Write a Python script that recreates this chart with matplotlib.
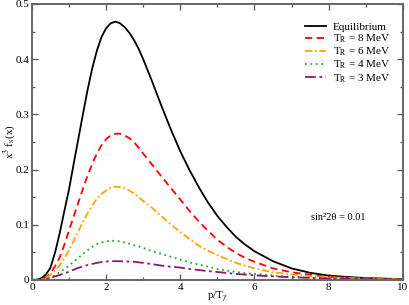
import numpy as np
import matplotlib
matplotlib.use('Agg')
import matplotlib.pyplot as plt
from matplotlib.ticker import MultipleLocator

plt.rcParams['font.family'] = ['Liberation Serif', 'DejaVu Serif']
plt.rcParams['mathtext.fontset'] = 'stix'

# values
x = [0, 0.125, 0.25, 0.375, 0.5, 0.625, 0.75, 0.875, 1.0, 1.125, 1.25, 1.375, 1.5, 1.625,
     1.75, 1.875, 2.0, 2.125, 2.25, 2.375, 2.5, 2.625, 2.75, 2.875, 3.0, 3.25, 3.5, 3.75,
     4.0, 4.25, 4.5, 4.75, 5.0, 5.25, 5.5, 5.75, 6.0, 6.5, 7.0, 7.5, 8.0, 8.5, 9.0, 9.5, 10.0]

eq = [0, 0.0005, 0.003, 0.010, 0.022, 0.050, 0.085, 0.125, 0.164, 0.210, 0.255, 0.300, 0.344,
      0.383, 0.415, 0.440, 0.456, 0.465, 0.468, 0.465, 0.458, 0.448, 0.435, 0.419, 0.400,
      0.358, 0.314, 0.272, 0.233, 0.199, 0.168, 0.140, 0.116, 0.096, 0.078, 0.064, 0.052,
      0.034, 0.021, 0.013, 0.008, 0.0055, 0.0035, 0.0025, 0.0015]
tr8 = [0, 0.0003, 0.001, 0.005, 0.012, 0.025, 0.041, 0.064, 0.090, 0.115, 0.140, 0.165, 0.189,
       0.210, 0.229, 0.244, 0.255, 0.262, 0.265, 0.265, 0.262, 0.257, 0.250, 0.240, 0.229,
       0.208, 0.187, 0.166, 0.146, 0.125, 0.106, 0.089, 0.073, 0.060, 0.049, 0.040, 0.033,
       0.021, 0.014, 0.0095, 0.006, 0.0042, 0.003, 0.002, 0.0013]
tr6 = [0, 0.0002, 0.001, 0.004, 0.009, 0.017, 0.027, 0.040, 0.054, 0.071, 0.088, 0.105, 0.121,
       0.135, 0.147, 0.156, 0.162, 0.167, 0.169, 0.168, 0.166, 0.162, 0.157, 0.150, 0.143,
       0.130, 0.115, 0.100, 0.087, 0.074, 0.062, 0.053, 0.045, 0.038, 0.031, 0.026, 0.021,
       0.014, 0.010, 0.007, 0.005, 0.0035, 0.0025, 0.0017, 0.001]
tr4 = [0, 0.0001, 0.0005, 0.002, 0.004, 0.009, 0.014, 0.020, 0.026, 0.033, 0.040, 0.047, 0.054,
       0.060, 0.065, 0.068, 0.070, 0.071, 0.071, 0.070, 0.068, 0.066, 0.063, 0.061, 0.058,
       0.052, 0.047, 0.042, 0.037, 0.032, 0.028, 0.024, 0.020, 0.017, 0.0145, 0.0125, 0.011,
       0.008, 0.0058, 0.0042, 0.003, 0.0022, 0.0016, 0.0011, 0.0008]
tr3 = [0, 0.0001, 0.0004, 0.0015, 0.004, 0.0065, 0.009, 0.012, 0.015, 0.0185, 0.022, 0.0245,
       0.027, 0.029, 0.031, 0.0325, 0.0335, 0.034, 0.034, 0.034, 0.0337, 0.0333, 0.033, 0.032,
       0.031, 0.0285, 0.026, 0.024, 0.0225, 0.020, 0.018, 0.016, 0.0145, 0.0127, 0.011, 0.0097,
       0.0085, 0.0065, 0.005, 0.0037, 0.0028, 0.0021, 0.0016, 0.0012, 0.0009]

fig = plt.figure(figsize=(4.09, 3.05), dpi=100)
ax = fig.add_axes([0.078, 0.082, 0.907, 0.905])

ax.plot(x, eq, color='black', lw=1.3, label='Equilibrium')
ax.plot(x, tr8, color='#ff0000', lw=1.3, dashes=(4, 2.5), label=r'T$_\mathrm{R}$ = 8 MeV')
ax.plot(x, tr6, color='#ffa500', lw=1.3, dashes=(4, 1.5, 1, 1.5), label=r'T$_\mathrm{R}$ = 6 MeV')
ax.plot(x, tr4, color='#2aa52a', lw=1.3, dashes=(1, 2), label=r'T$_\mathrm{R}$ = 4 MeV')
ax.plot(x, tr3, color='#8b1a6b', lw=1.3, dashes=(6, 2, 1.5, 2), label=r'T$_\mathrm{R}$ = 3 MeV')

ax.set_xlim(0, 10)
ax.set_ylim(0, 0.5)
ax.xaxis.set_minor_locator(MultipleLocator(1))
ax.yaxis.set_minor_locator(MultipleLocator(0.05))
ax.set_yticks([0, 0.1, 0.2, 0.3, 0.4, 0.5])
ax.set_yticklabels(['0', '0.1', '0.2', '0.3', '0.4', '0.5'], fontsize=8)
ax.set_xticks([0, 2, 4, 6, 8, 10])
ax.set_xticklabels(['0', '2', '4', '6', '8', '10'], fontsize=8)
ax.tick_params(which='both', direction='in', top=True, right=True, color='#555555', pad=2)
ax.tick_params(which='major', length=4, width=0.9)
ax.tick_params(which='minor', length=2.5, width=0.9)
for s in ax.spines.values():
    s.set_color('#666666')
    s.set_linewidth(1.4)

ax.set_xlabel(r'p/T$_\gamma$', fontsize=8)
ax.xaxis.set_label_coords(0.5, -0.036)
ax.set_ylabel(r'x$^3$ f$_\mathrm{s}$(x)', fontsize=8)
ax.yaxis.set_label_coords(-0.038, 0.5)

ax.text(0.827, 0.225, 'sin²2θ = 0.01', transform=ax.transAxes, fontsize=7.5,
        ha='center', va='center')

leg = ax.legend(loc='upper right', bbox_to_anchor=(0.99, 0.965), frameon=False, fontsize=8,
                handlelength=1.9, handletextpad=0.6, labelspacing=0.05, borderpad=0.3)

fig.savefig('out.png', dpi=100)
